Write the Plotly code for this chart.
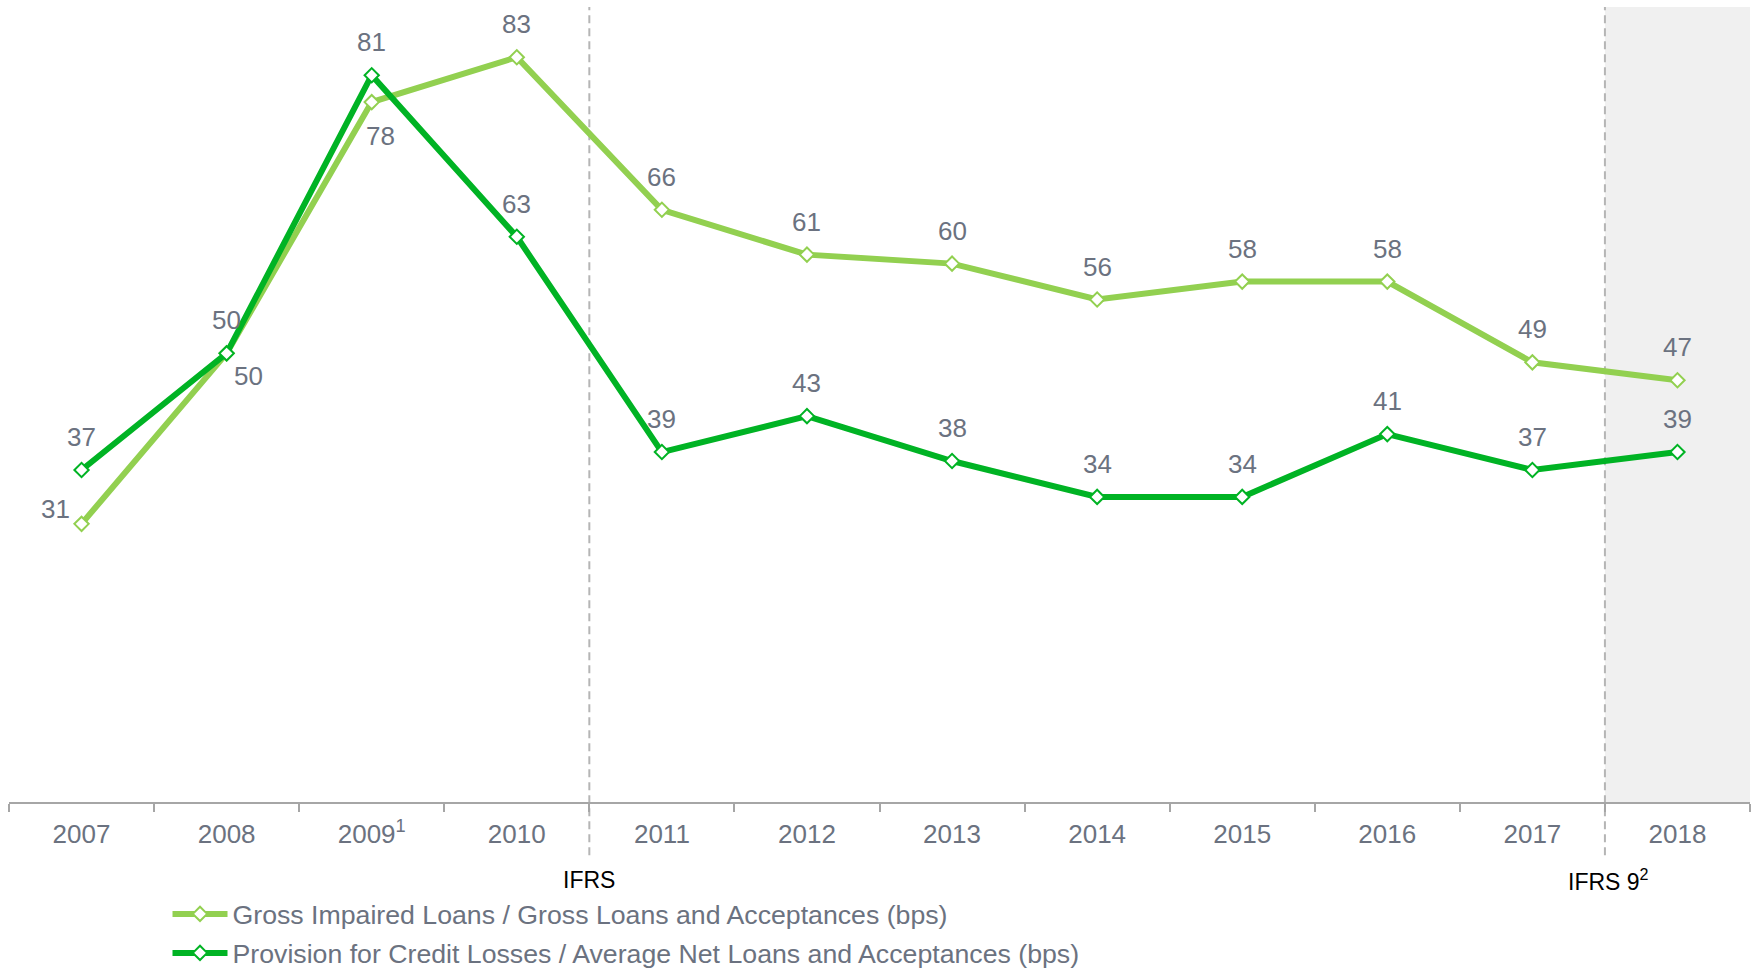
import plotly.graph_objects as go

years = ["2007", "2008", "2009<sup>1</sup>", "2010", "2011", "2012", "2013", "2014", "2015", "2016", "2017", "2018"]
gross_impaired = [31, 50, 78, 83, 66, 61, 60, 56, 58, 58, 49, 47]
provision = [37, 50, 81, 63, 39, 43, 38, 34, 34, 41, 37, 39]
name_gil = "Gross Impaired Loans / Gross Loans and Acceptances (bps)"
name_pcl = "Provision for Credit Losses / Average Net Loans and Acceptances (bps)"

# label offsets (pixels) relative to each point
gil_label_dx = [-26, 22, 9, 0, 0, 0, 0, 0, 0, 0, 0, 0]
gil_label_dy = [15, -23, -34, 33, 33, 33, 33, 33, 33, 33, 33, 33]
pcl_label_dx = [0] * 12
pcl_label_dy = [33] * 12

LIGHT = "#92d050"
DARK = "#00b324"
TXT = "#6b7280"
FONT = "Liberation Sans, Arial, sans-serif"

fig = go.Figure()
fig.add_trace(go.Scatter(
    x=years, y=gross_impaired, name=name_gil, mode="lines+markers",
    line=dict(color=LIGHT, width=6),
    marker=dict(symbol="diamond", size=11, color="white", line=dict(color=LIGHT, width=2)),
    legend="legend", cliponaxis=False,
))
fig.add_trace(go.Scatter(
    x=years, y=provision, name=name_pcl, mode="lines+markers",
    line=dict(color=DARK, width=6),
    marker=dict(symbol="diamond", size=11, color="white", line=dict(color=DARK, width=2)),
    legend="legend2", cliponaxis=False,
))

for i, yr in enumerate(years):
    fig.add_annotation(x=i, y=gross_impaired[i], text=str(gross_impaired[i]), showarrow=False,
                       xshift=gil_label_dx[i], yshift=gil_label_dy[i],
                       font=dict(size=26, color=TXT, family=FONT))
    fig.add_annotation(x=i, y=provision[i], text=str(provision[i]), showarrow=False,
                       xshift=pcl_label_dx[i], yshift=pcl_label_dy[i],
                       font=dict(size=26, color=TXT, family=FONT))

# shaded IFRS 9 region
fig.add_shape(type="rect", xref="x", yref="paper", x0=10.5, x1=11.5, y0=0, y1=1,
              fillcolor="#f0f0f0", line=dict(width=0), layer="below")
for xv in [3.5, 10.5]:
    fig.add_shape(type="line", xref="x", yref="paper", x0=xv, x1=xv, y0=-0.067, y1=1,
                  line=dict(color="#b5b5b5", width=2, dash="8px,5px"), layer="below")

fig.add_annotation(x=3.5, xref="x", y=-0.098, yref="paper", text="IFRS", showarrow=False,
                   font=dict(size=23, color="black", family=FONT), yanchor="middle")
fig.add_annotation(x=10.5, xref="x", xshift=4, y=-0.098, yref="paper", text="IFRS 9<sup>2</sup>", showarrow=False,
                   font=dict(size=23, color="black", family=FONT), yanchor="middle")

fig.update_layout(
    width=1754, height=970,
    margin=dict(l=9, r=4, t=7, b=168, autoexpand=False),
    paper_bgcolor="white", plot_bgcolor="rgba(0,0,0,0)",
    font=dict(family=FONT, color=TXT),
    xaxis=dict(type="category", tickson="boundaries", range=[-0.5, 11.5],
               showgrid=False, zeroline=False, showline=True, linecolor="#a6a6a6", linewidth=2,
               ticks="outside", ticklen=8, tickwidth=2, tickcolor="#a6a6a6",
               ticklabelstandoff=8,
               tickfont=dict(size=26, color=TXT, family=FONT), fixedrange=True),
    yaxis=dict(range=[0, 88.6], visible=False, showgrid=False, zeroline=False),
    showlegend=True,
    legend=dict(x=0.0955, xanchor="left", xref="container", y=0.0577, yanchor="middle", yref="container",
                font=dict(size=26.7, color=TXT, family=FONT), bgcolor="rgba(0,0,0,0)", itemwidth=55),
    legend2=dict(x=0.0955, xanchor="left", xref="container", y=0.0175, yanchor="middle", yref="container",
                 font=dict(size=26.7, color=TXT, family=FONT), bgcolor="rgba(0,0,0,0)", itemwidth=55),
)

fig.write_html("out.html", config={"displayModeBar": False},
               post_script="document.body.style.margin='0px';document.body.style.overflow='hidden';")
